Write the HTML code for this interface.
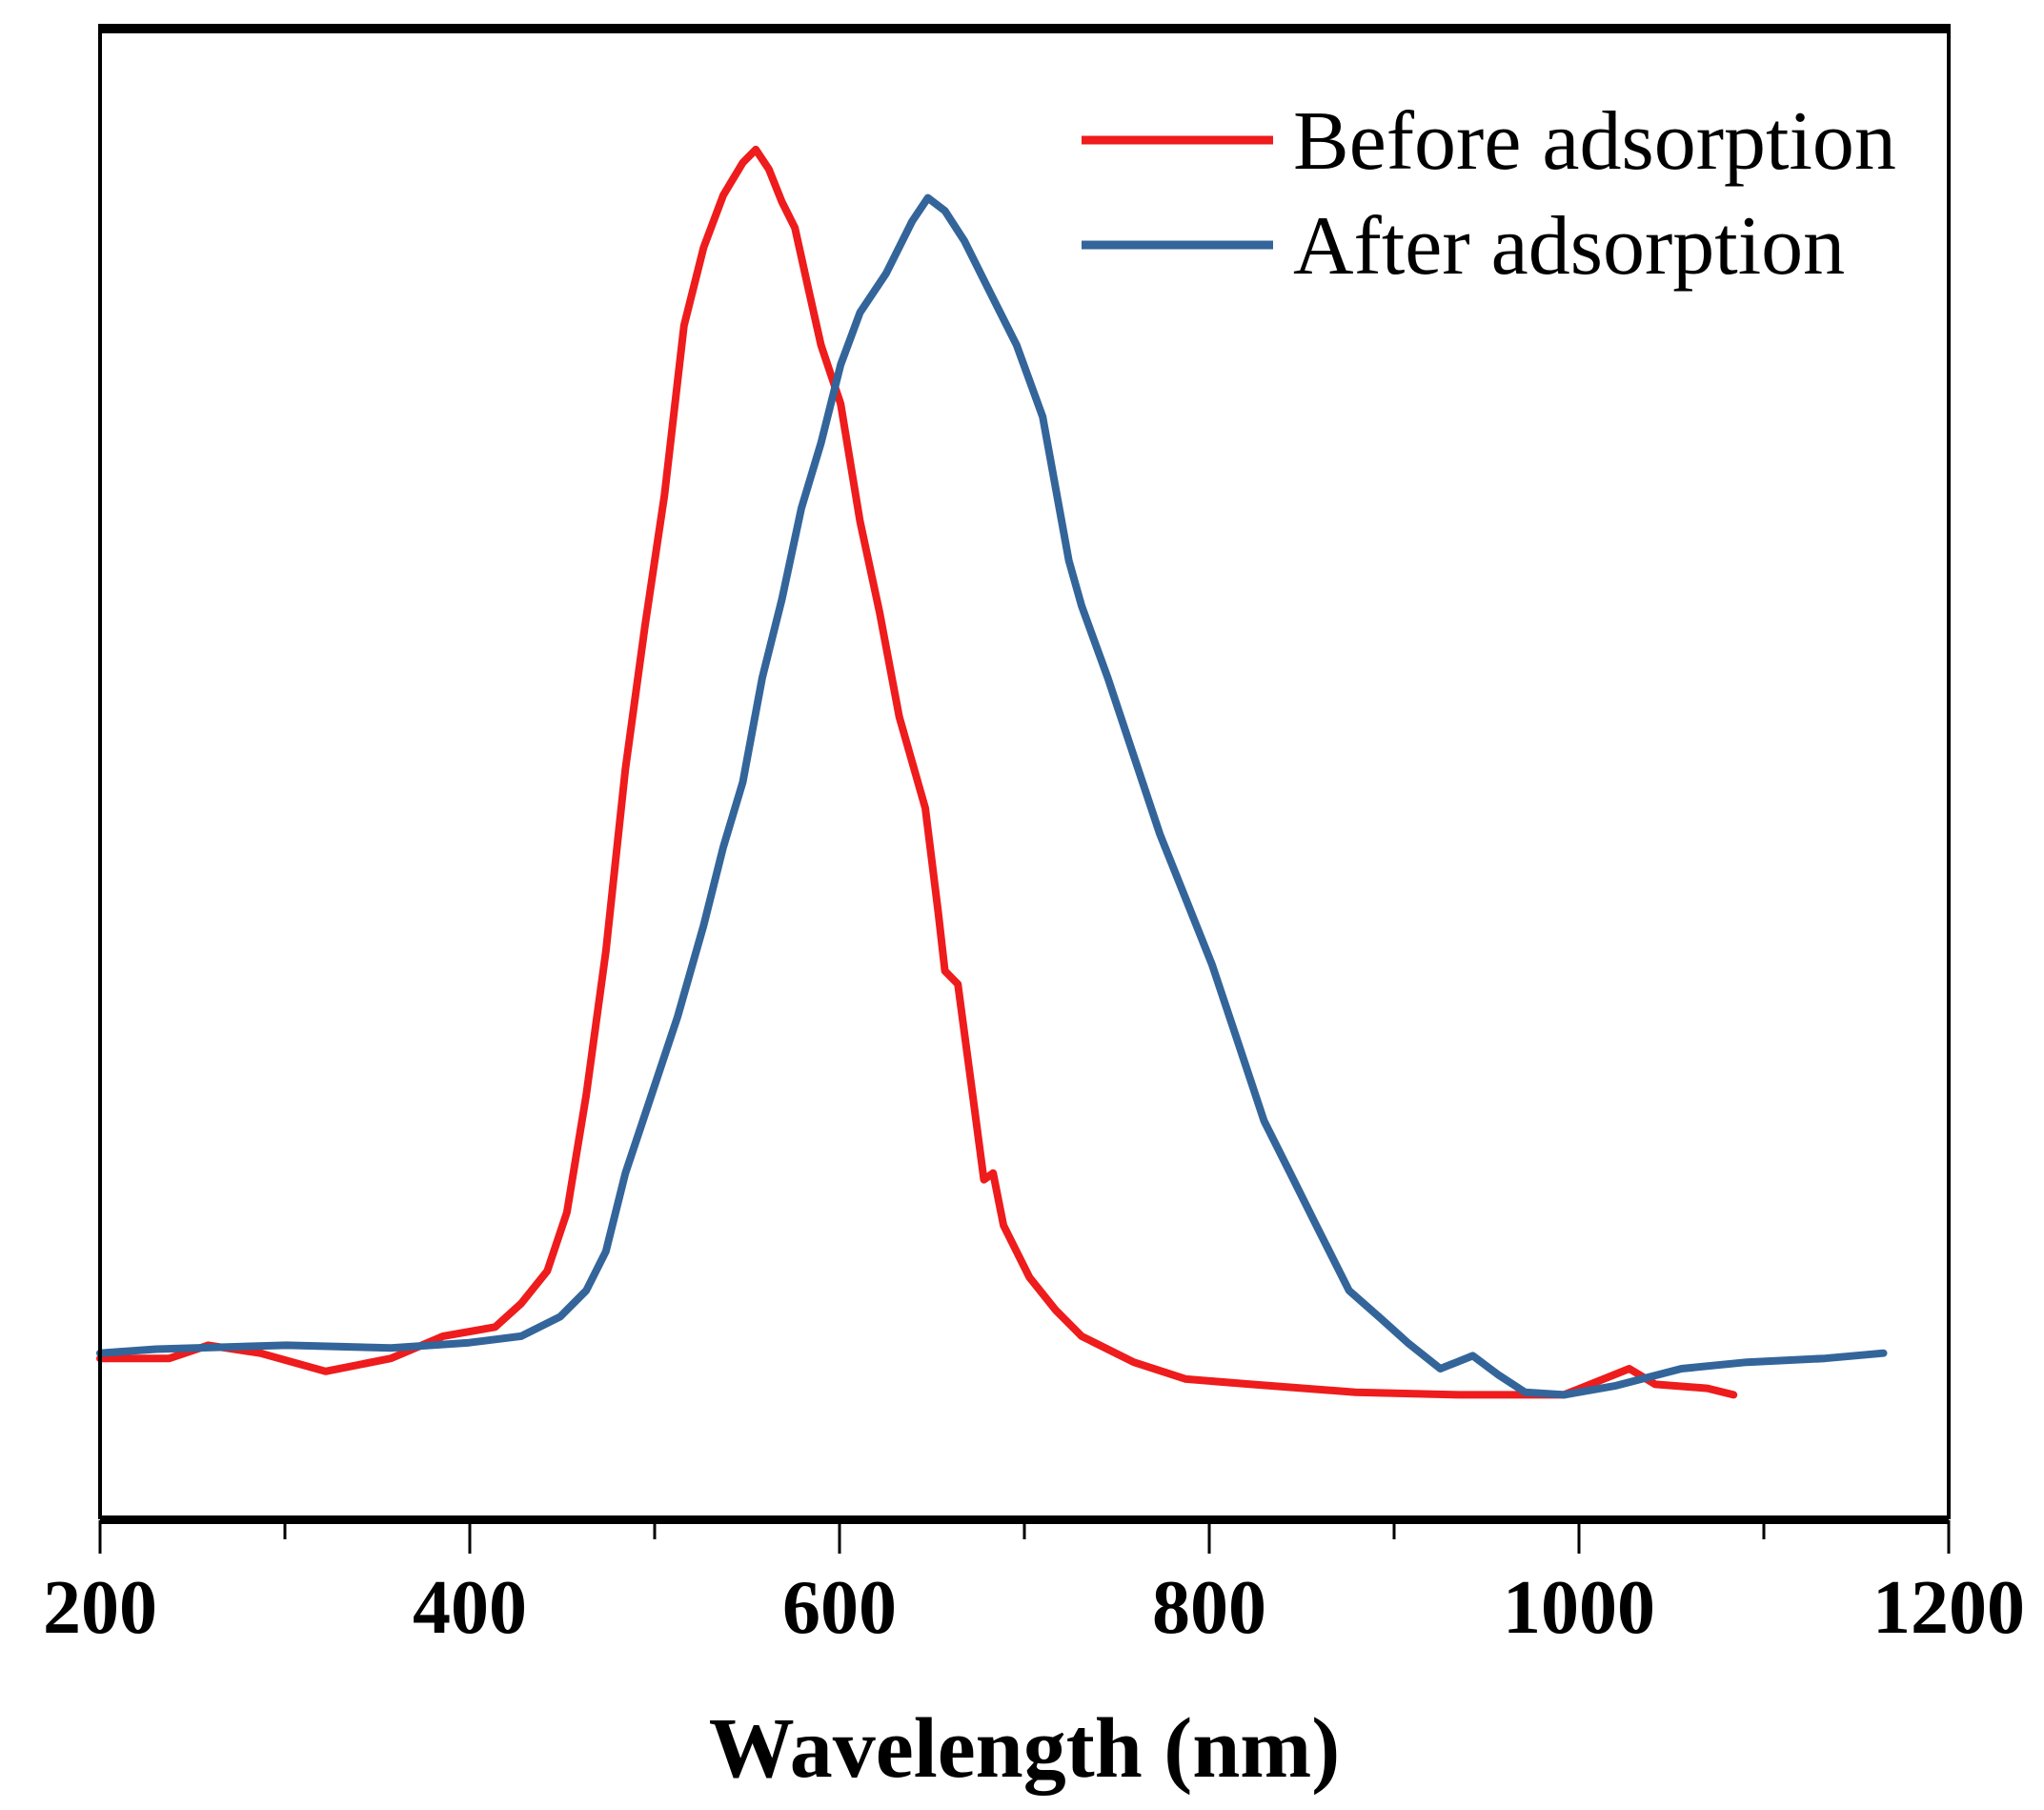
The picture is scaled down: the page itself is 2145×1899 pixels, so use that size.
<!DOCTYPE html>
<html><head><meta charset="utf-8"><style>
html,body{margin:0;padding:0;background:#fff;}
svg{display:block;}
text{font-family:"Liberation Serif",serif;}
</style></head><body>
<svg id="chart" width="2145" height="1899" viewBox="0 0 2145 1899" xmlns="http://www.w3.org/2000/svg">
<g id="plot"></g>
</svg>
<script>
const xTicks = [200,400,600,800,1000,1200];
const xMinor = [300,500,700,900,1100];
const beforeX = [200,237.4,258.5,286.7,322,357.3,385.5,413.7,427.8,441.9,452.5,463,473.6,484.2,494.8,505.3,515.9,526.5,537.1,547.7,554.7,561.8,568.8,575.9,582.9,590,600.6,611.1,621.7,632.3,646.4,653.4,657,664,671.1,678.1,683.1,688.7,702.8,716.9,731,759.2,787.4,822.7,879.1,935.5,991.9,1027.2,1041.3,1069.5,1083.6];
const beforeY = [10.66,10.66,11.54,11.01,9.79,10.66,12.15,12.76,14.34,16.52,20.45,28.32,37.94,50.17,59.79,68.53,79.9,85.14,88.64,90.82,91.7,90.38,88.2,86.45,82.52,78.58,74.65,66.78,60.66,53.67,47.55,40.56,36.63,35.75,29.2,22.64,23.08,19.58,16.08,13.9,12.15,10.4,9.27,8.92,8.39,8.22,8.22,9.97,8.92,8.65,8.22];
const afterX = [200,230.3,300.8,357.3,399.6,427.8,448.9,463,473.6,484.2,498.3,512.4,526.5,537.1,547.7,558.2,568.8,579.4,590,600.6,611.1,625.2,639.3,647.8,657,667.5,681.6,695.8,709.9,724,731,745.1,759.2,773.3,787.4,801.5,815.6,829.7,843.8,857.9,875.6,893.2,907.3,925,942.6,956.7,970.8,991.9,1020.1,1055.4,1090.7,1133,1164.7];
const afterY = [11.01,11.28,11.54,11.36,11.71,12.15,13.46,15.21,17.83,23.08,28.32,33.57,39.69,44.93,49.3,56.29,61.54,67.66,72.03,77.27,80.77,83.39,86.89,88.46,87.59,85.58,82.08,78.58,73.78,64.16,61.1,56.29,51.05,45.8,41.43,37.06,31.82,26.57,23.08,19.58,15.21,13.29,11.71,9.97,10.84,9.53,8.39,8.22,8.83,9.97,10.4,10.66,11.01];

const L=105,R=2045,T=27,B=1592;
const xs = v => L + (v-200)/(1200-200)*(R-L);
const ys = v => B - v/100*(B-T);
const NS="http://www.w3.org/2000/svg";
const g=document.getElementById('plot');
function mk(tag,attrs){const e=document.createElementNS(NS,tag);for(const k in attrs)e.setAttribute(k,attrs[k]);g.appendChild(e);return e;}

function series(X,Y,color,name){
  let d='';X.forEach((x,i)=>{d+=(i?'L':'M')+xs(x).toFixed(1)+','+ys(Y[i]).toFixed(1);});
  const p=mk('path',{d:d,fill:'none',stroke:color,'stroke-width':8,'stroke-linejoin':'round','stroke-linecap':'round'});
  
  
}
series(beforeX,beforeY,'#ee1c1c','before-adsorption-line');
series(afterX,afterY,'#33659a','after-adsorption-line');

const f=mk('rect',{x:L,y:T,width:R-L,height:B-T,fill:'none',stroke:'#000','stroke-width':4});


const tl=mk('line',{x1:L,x2:R,y1:31,y2:31,stroke:'#000','stroke-width':8});


const bl=mk('line',{x1:L,x2:R,y1:1595,y2:1595,stroke:'#000','stroke-width':8});



xTicks.forEach(t=>{
  const l=mk('line',{x1:xs(t),x2:xs(t),y1:1595,y2:1630,stroke:'#000','stroke-width':3});
  
  
  const tx=mk('text',{x:xs(t),y:1713,'text-anchor':'middle','font-size':80,'font-weight':'bold'});
  tx.textContent=t;
  
  
});
xMinor.forEach(t=>{
  const l=mk('line',{x1:xs(t),x2:xs(t),y1:1595,y2:1615,stroke:'#000','stroke-width':3});
  
  
});
const title=mk('text',{x:1075,y:1864,'text-anchor':'middle','font-size':90,'font-weight':'bold'});
title.textContent='Wavelength (nm)';



[['Before adsorption','#ee1c1c',147,177,'legend-before'],['After adsorption','#33659a',257,287,'legend-after']].forEach(a=>{
  const l=mk('line',{x1:1135,x2:1336,y1:a[2],y2:a[2],stroke:a[1],'stroke-width':9});
  
  
  const t=mk('text',{x:1357,y:a[3],'font-size':88});
  t.textContent=a[0];
  
  
});
</script>
</body></html>
